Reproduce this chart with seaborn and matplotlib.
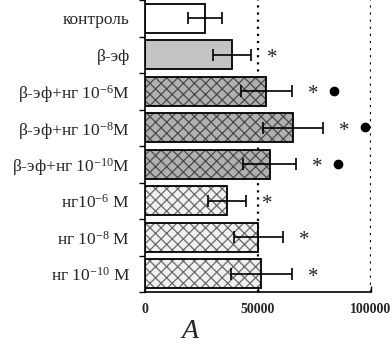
import matplotlib
matplotlib.use("Agg")
import matplotlib.pyplot as plt
import seaborn as sns
import pandas as pd
import numpy as np

categories = ["контроль", "β-эф",
              r"β-эф+нг 10$^{-6}$M", r"β-эф+нг 10$^{-8}$M", r"β-эф+нг 10$^{-10}$M",
              r"нг10$^{-6}$ M", r"нг 10$^{-8}$ M", r"нг 10$^{-10}$ M"]
means = [26400, 38400, 53700, 65500, 55200, 36200, 50200, 51500]
errors = [7500, 8400, 11400, 13200, 11700, 8300, 10700, 13500]
star = [False, True, True, True, True, True, True, True]
dot = [False, False, True, True, True, False, False, False]
group = ["control", "beta", "combo", "combo", "combo", "ng", "ng", "ng"]
x_ticks = [0, 50000, 100000]
x_ticklabels = ["0", "50000", "100000"]
panel_label = "A"

sns.set_theme(style="white")
plt.rcParams["font.family"] = ["Liberation Serif", "DejaVu Serif"]
plt.rcParams["mathtext.fontset"] = "custom"
plt.rcParams["mathtext.rm"] = "Liberation Serif"
plt.rcParams["mathtext.it"] = "Liberation Serif:italic"
plt.rcParams["mathtext.default"] = "regular"
plt.rcParams["hatch.linewidth"] = 0.9

df = pd.DataFrame({"cat": categories, "val": means, "err": errors, "grp": group})

fig = plt.figure(figsize=(3.92, 3.44), dpi=100)
ax = fig.add_axes([0.37, 0.151, 0.5765, 0.849])

face = {"control": "white", "beta": "#c4c4c4", "combo": "#b0b0b0", "ng": "#f0f0f0"}
hatch = {"control": "", "beta": "", "combo": "xxx", "ng": "xxx"}
hcol = {"control": "black", "beta": "black", "combo": "#4a4a4a", "ng": "#6a6a6a"}

sns.barplot(data=df, y="cat", x="val", orient="h", errorbar=None, width=0.8,
            color="white", ax=ax, zorder=2)
for p, g in zip(ax.patches, group):
    p.set_facecolor(face[g])
    p.set_hatch(hatch[g])
    p.set_edgecolor(hcol[g])
    p.set_linewidth(0)
# outlines
sns.barplot(data=df, y="cat", x="val", orient="h", errorbar=None, width=0.8,
            fill=False, color="black", linewidth=1.3, ax=ax, zorder=3)

ypos = np.arange(len(categories))
ax.errorbar(means, ypos, xerr=errors, fmt="none", ecolor="black",
            elinewidth=1.2, capsize=4, capthick=1.2, zorder=4)

for i in range(len(categories)):
    xe = means[i] + errors[i]
    if star[i]:
        ax.text(xe + 9500, i + 0.1, "*", fontsize=15, ha="center", va="center",
                color="#222222", zorder=5)
    if dot[i]:
        ax.plot([xe + 9500 + 9000], [i - 0.02], marker="o", markersize=6,
                color="black", zorder=5)

for xv in [50000, 100000]:
    ax.axvline(xv, color="black", linestyle=(0, (1, 2.2)), linewidth=1.6, zorder=1)

ax.set_xlim(0, 100000)
ax.set_ylim(len(categories) - 0.5, -0.5)
ax.set_xticks(x_ticks)
ax.set_xticklabels(x_ticklabels, fontsize=10, fontweight="bold")
ax.set_yticks(ypos)
ax.set_yticklabels(categories, fontsize=12.5)
ax.set_yticks(np.arange(-0.5, len(categories), 1.0), minor=True)
ax.tick_params(axis="y", which="major", length=0, pad=11)
ax.tick_params(axis="y", which="minor", length=4, width=1, direction="out", color="black", left=True)
ax.tick_params(axis="x", which="major", length=4, width=1, direction="in", color="black",
               bottom=True, pad=8)
ax.set_xlabel("")
ax.set_ylabel("")
for s in ["top", "right"]:
    ax.spines[s].set_visible(False)
for s in ["left", "bottom"]:
    ax.spines[s].set_color("black")
    ax.spines[s].set_linewidth(1.2)

fig.text(190 / 392, 1 - 331 / 344, panel_label, fontsize=20, style="italic",
         ha="center", va="center")

fig.savefig("out.png", dpi=100)
